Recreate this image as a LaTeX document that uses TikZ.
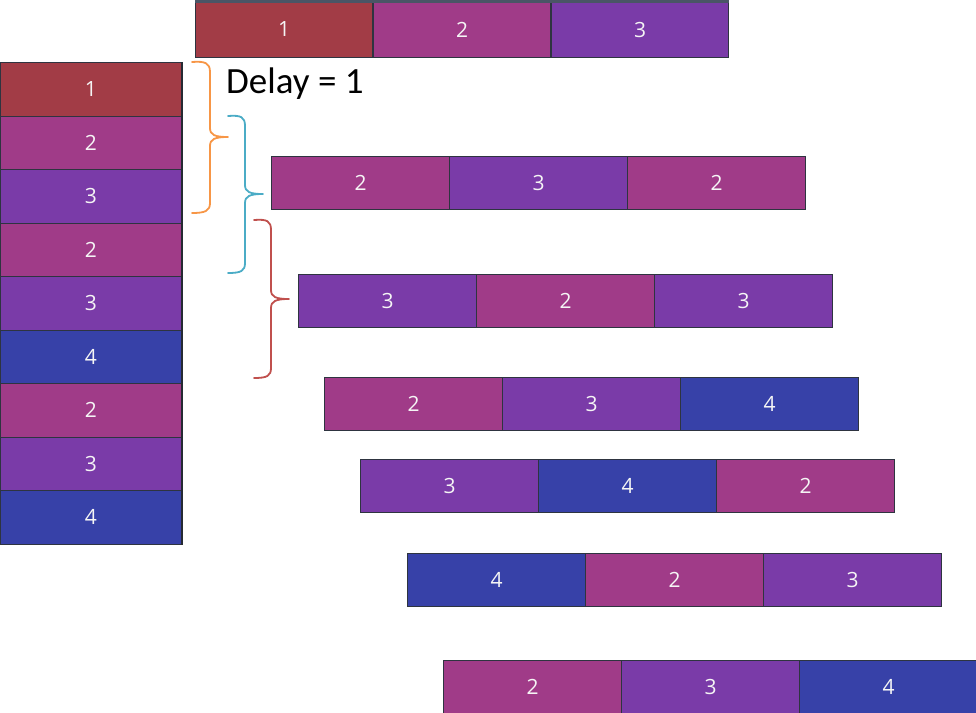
\documentclass[tikz,border=0pt]{standalone}
\usepackage{fontspec}
\setmainfont{Open Sans}
\newfontfamily\calib{Carlito}
\definecolor{c1}{HTML}{A23C46}
\definecolor{c2}{HTML}{A03B88}
\definecolor{c3}{HTML}{7A3BA8}
\definecolor{c4}{HTML}{3741A8}
\definecolor{edge}{HTML}{2E3440}
\definecolor{topedge}{HTML}{4A5566}
\definecolor{bOrange}{HTML}{F79646}
\definecolor{bBlue}{HTML}{4BACC6}
\definecolor{bRed}{HTML}{C0504D}
\begin{document}
\begin{tikzpicture}[x=1pt,y=-1pt,
  cell/.style={draw=edge, line width=1pt, text=white!92!gray,
    font=\fontsize{21}{21}\selectfont, inner sep=0pt, anchor=north west,
    minimum width=178pt, minimum height=53pt},
  vcell/.style={cell, minimum width=181pt, minimum height=53.5pt},
  bracestyle/.style={line width=1.8pt, line cap=round, line join=round}]
\useasboundingbox (0,0) rectangle (976,712);
% top row
\foreach \i/\x/\n in {1/195/1,2/373/2,3/551/3}
  \node[cell, fill=c\n, minimum height=56pt, minimum width=177pt] (t\i) at (\x,1) {\n};
\draw[topedge, line width=3pt] (t1.north west) -- (t3.north east);
% left column
\foreach \i/\n in {1/1,2/2,3/3,4/2,5/3,6/4,7/2,8/3,9/4}
  \node[vcell, fill=c\n] (l\i) at (0,{62+(\i-1)*53.5}) {\n};
\draw[edge!80!black, line width=2pt] (l1.north east) -- (l9.south east);
% shifted rows
\foreach \r/\x/\y/\a/\b/\c in {2/271/156/2/3/2, 3/298/274/3/2/3, 4/324/377/2/3/4,
    5/360/459/3/4/2, 6/407/553/4/2/3, 7/443/660/2/3/4}{
  \node[cell, fill=c\a] (r\r c1) at (\x,\y) {\a};
  \node[cell, fill=c\b] (r\r c2) at (\x+178,\y) {\b};
  \node[cell, fill=c\c] (r\r c3) at (\x+356,\y) {\c};
}
% label
\node[anchor=west, inner sep=0pt, font=\calib\fontsize{37}{37}\selectfont] (delay) at (226,84) {Delay = 1};
% braces
\draw[bracestyle, bOrange] (192,62) .. controls (205,61) and (210,63) .. (210,72) -- (210,128)
  .. controls (210,135) and (215,137) .. (228,137) .. controls (215,137) and (210,139) .. (210,146)
  -- (210,203) .. controls (210,211) and (205,213) .. (192,213);
\draw[bracestyle, bBlue] (228,116) .. controls (241,115) and (245,117) .. (245,126) -- (245,185)
  .. controls (245,192) and (250,194) .. (263,194) .. controls (250,194) and (245,196) .. (245,203)
  -- (245,263) .. controls (245,271) and (241,273) .. (228,273);
\draw[bracestyle, bRed] (254,220) .. controls (267,219) and (271,221) .. (271,230) -- (271,290)
  .. controls (271,297) and (276,299) .. (289,299) .. controls (276,299) and (271,301) .. (271,308)
  -- (271,368) .. controls (271,376) and (267,378) .. (254,378);
\end{tikzpicture}
\end{document}
